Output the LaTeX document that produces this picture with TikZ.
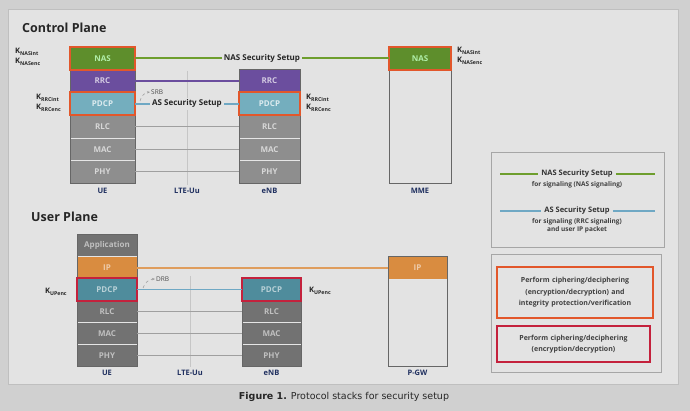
\documentclass[tikz,border=0pt]{standalone}
\usepackage{fontspec}
\setmainfont{Open Sans}
\setsansfont{Open Sans}
\newfontfamily\capfont{DejaVu Sans}
\usepackage{tikz}
\usetikzlibrary{arrows.meta}
\definecolor{mnas}{HTML}{5E8E2C}
\definecolor{mrrc}{HTML}{6B4E9E}
\definecolor{mpdcp}{HTML}{74AEBE}
\definecolor{mpdcpu}{HTML}{4F8C9C}
\definecolor{mgris}{HTML}{8E8E8E}
\definecolor{mgrisu}{HTML}{727272}
\definecolor{mip}{HTML}{D98C40}
\definecolor{msec}{HTML}{E2572B}
\definecolor{msecu}{HTML}{C4213C}
\definecolor{mnavy}{HTML}{1F2F5F}
\definecolor{mfondo}{HTML}{D0D0D0}
\definecolor{mpagina}{HTML}{E3E3E3}
\definecolor{mazul}{HTML}{6FA8C4}
\definecolor{mverde}{HTML}{6E9E2E}

\begin{document}
\begin{tikzpicture}[x=1pt,y=-1pt,font=\sffamily\bfseries\fontsize{7}{8}\selectfont,>={Stealth[length=3pt]},
lay/.style={rectangle,draw=white!80!gray,line width=0.4pt,minimum width=#1,minimum height=22.7pt,inner sep=0pt,font=\sffamily\bfseries\fontsize{8}{9}\selectfont},
lay/.default=62pt,
nasL/.style={fill=mnas,text=green!25!white!85!mnas},
rrcL/.style={fill=mrrc,text=mrrc!30!white},
pdcpL/.style={fill=mpdcp,text=mpdcp!25!white},
pdcpU/.style={fill=mpdcpu,text=mpdcpu!40!white},
lowL/.style={fill=mgris,text=mgris!35!white},
lowU/.style={fill=mgrisu,text=mgrisu!45!white},
ipL/.style={fill=mip,text=mip!45!white},
frame/.style={draw=black!60,line width=0.6pt},
secb/.style={draw=msec,line width=1.6pt},
secbu/.style={draw=msecu,line width=1.6pt},
ent/.style={text=mnavy,font=\sffamily\bfseries\fontsize{7.5}{8}\selectfont},
kl/.style={align=left,anchor=west,inner sep=0pt,text=black!85,font=\sffamily\bfseries\fontsize{7.5}{10}\selectfont},
ttl/.style={anchor=west,inner sep=0pt,text=black!85,font=\sffamily\bfseries\fontsize{12.5}{14}\selectfont},
setup/.style={fill=mpagina,inner sep=2pt,text=black!85,font=\sffamily\bfseries\fontsize{8}{9}\selectfont},
nasln/.style={draw=mverde,line width=1.8pt},
asln/.style={draw=mazul,line width=1.8pt},
rrcln/.style={draw=mrrc,line width=1.5pt},
grln/.style={draw=gray!75,line width=1.1pt},
ipln/.style={draw=mip!85!white,line width=1.8pt},
uuln/.style={draw=gray!45,line width=0.7pt},
rb/.style={->,dashed,draw=gray!80,line width=0.5pt},
rbl/.style={anchor=west,inner sep=1pt,text=black!70,font=\sffamily\fontsize{6.5}{7}\selectfont},
legbox/.style={rectangle,draw=gray!70,line width=0.5pt,inner sep=0pt},
legt/.style={inner sep=3pt,text=black!80,font=\sffamily\bfseries\fontsize{7.5}{8}\selectfont},
legs/.style={inner sep=0pt,align=center,text=black!75,font=\sffamily\bfseries\fontsize{6.5}{8}\selectfont},
legsec/.style={rectangle,line width=1.4pt,align=center,inner sep=0pt,text width=152pt,text=black!75,font=\sffamily\bfseries\fontsize{7}{11.5}\selectfont}]

% background and page
\fill[mfondo] (0,0) rectangle (690,411);
\draw[draw=black!25,fill=mpagina] (8,9) rectangle (678,384);

\node[ttl] (cpT) at (22,28) {Control Plane};
\node[ttl] (upT) at (31,217) {User Plane};

% ---------------- control plane ----------------
\coordinate (uuA) at (187,71);
\node[ent] (uuC) at (187,191) {LTE-Uu};
\draw[uuln] (uuA) -- (uuC.north);

% UE
\node[lay=65pt,nasL] (ueNAS) at (102.5,58.35) {NAS};
\node[lay=65pt,rrcL] (ueRRC) at (102.5,81.05) {RRC};
\node[lay=65pt,pdcpL] (uePDCP) at (102.5,103.75) {PDCP};
\node[lay=65pt,lowL] (ueRLC) at (102.5,126.45) {RLC};
\node[lay=65pt,lowL] (ueMAC) at (102.5,149.15) {MAC};
\node[lay=65pt,lowL] (uePHY) at (102.5,171.85) {PHY};
\draw[frame] (ueNAS.north west) rectangle (uePHY.south east);
\draw[secb] (ueNAS.north west) rectangle (ueNAS.south east);
\draw[secb] (uePDCP.north west) rectangle (uePDCP.south east);
\node[ent] (ueC) at (102.5,191) {UE};
\node[kl] (kNasUe) at (15,57) {K\textsubscript{NASint}\\K\textsubscript{NASenc}};
\node[kl] (kRrcUe) at (36,103) {K\textsubscript{RRCint}\\K\textsubscript{RRCenc}};

% eNB
\node[lay=61pt,rrcL] (enbRRC) at (269.5,81.05) {RRC};
\node[lay=61pt,pdcpL] (enbPDCP) at (269.5,103.75) {PDCP};
\node[lay=61pt,lowL] (enbRLC) at (269.5,126.45) {RLC};
\node[lay=61pt,lowL] (enbMAC) at (269.5,149.15) {MAC};
\node[lay=61pt,lowL] (enbPHY) at (269.5,171.85) {PHY};
\draw[frame] (enbRRC.north west) rectangle (enbPHY.south east);
\draw[secb] (enbPDCP.north west) rectangle (enbPDCP.south east);
\node[ent] (enbC) at (269.5,191) {eNB};
\node[kl] (kRrcEnb) at (306,103) {K\textsubscript{RRCint}\\K\textsubscript{RRCenc}};

% MME
\node[lay=62pt,minimum height=136pt,fill=mpagina] (mme) at (420,115.1) {};
\node[lay=62pt,nasL] (mmeNAS) at (420,58.35) {NAS};
\draw[frame] (mme.north west) rectangle (mme.south east);
\draw[secb] (mmeNAS.north west) rectangle (mmeNAS.south east);
\node[ent] (mmeC) at (420,191) {MME};
\node[kl] (kNasMme) at (457,56) {K\textsubscript{NASint}\\K\textsubscript{NASenc}};

% peer links
\node[setup] (nasS) at (262,58.35) {NAS Security Setup};
\draw[nasln] (ueNAS.east) -- (nasS.west);
\draw[nasln] (nasS.east) -- (mmeNAS.west);
\draw[rrcln] (ueRRC.east) -- (enbRRC.west);
\node[setup] (asS) at (187,103.75) {AS Security Setup};
\draw[asln] (uePDCP.east) -- (asS.west);
\draw[asln] (asS.east) -- (enbPDCP.west);
\draw[grln] (ueRLC.east) -- (enbRLC.west);
\draw[grln] (ueMAC.east) -- (enbMAC.west);
\draw[grln] (uePHY.east) -- (enbPHY.west);
\coordinate (srbA) at (140,101);
\node[rbl] (srb) at (150,92) {SRB};
\draw[rb] (srbA) to[bend left=35] (srb.west);

% ---------------- user plane ----------------
\coordinate (uuB) at (190,276);
\node[ent] (uuU) at (190,373) {LTE-Uu};
\draw[uuln] (uuB) -- (uuU.north);

% UE
\node[lay=60pt,lowU] (uApp) at (107,245.9) {Application};
\node[lay=60pt,ipL] (uIP) at (107,267.75) {IP};
\node[lay=60pt,pdcpU] (uPDCP) at (107,289.6) {PDCP};
\node[lay=60pt,lowU] (uRLC) at (107,311.45) {RLC};
\node[lay=60pt,lowU] (uMAC) at (107,333.3) {MAC};
\node[lay=60pt,lowU] (uPHY) at (107,355.15) {PHY};
\draw[frame] (uApp.north west) rectangle (uPHY.south east);
\draw[secbu] (uPDCP.north west) rectangle (uPDCP.south east);
\node[ent] (uC) at (107,373) {UE};
\node[kl] (kUpUe) at (45,292) {K\textsubscript{UPenc}};

% eNB
\node[lay=59pt,pdcpU] (eP) at (271.5,289.6) {PDCP};
\node[lay=59pt,lowU] (eR) at (271.5,311.45) {RLC};
\node[lay=59pt,lowU] (eM) at (271.5,333.3) {MAC};
\node[lay=59pt,lowU] (eH) at (271.5,355.15) {PHY};
\draw[frame] (eP.north west) rectangle (eH.south east);
\draw[secbu] (eP.north west) rectangle (eP.south east);
\node[ent] (eC) at (271.5,373) {eNB};
\node[kl] (kUpEnb) at (309,291) {K\textsubscript{UPenc}};

% P-GW
\node[lay=59pt,minimum height=109.2pt,fill=mpagina] (pgw) at (417.5,311.45) {};
\node[lay=59pt,ipL] (pIP) at (417.5,267.75) {IP};
\draw[frame] (pgw.north west) rectangle (pgw.south east);
\node[ent] (pC) at (417.5,373) {P-GW};

% peer links
\draw[ipln] (uIP.east) -- (pIP.west);
\draw[asln] (uPDCP.east) -- (eP.west);
\draw[grln] (uRLC.east) -- (eR.west);
\draw[grln] (uMAC.east) -- (eM.west);
\draw[grln] (uPHY.east) -- (eH.west);
\coordinate (drbA) at (143,288);
\node[rbl] (drb) at (155,279) {DRB};
\draw[rb] (drbA) to[bend left=35] (drb.west);

% ---------------- legend ----------------
\node[legbox,minimum width=173pt,minimum height=95pt] (leg1) at (577.5,199.5) {};
\coordinate (g1) at (500,174);
\coordinate (g2) at (655,174);
\node[legt] (legNas) at (577,174) {NAS Security Setup};
\draw[nasln] (g1) -- (legNas.west);
\draw[nasln] (legNas.east) -- (g2);
\node[legs] (legNasS) at (577,185) {for signaling (NAS signaling)};
\coordinate (b1) at (500,211);
\coordinate (b2) at (655,211);
\node[legt] (legAs) at (577,211) {AS Security Setup};
\draw[asln] (b1) -- (legAs.west);
\draw[asln] (legAs.east) -- (b2);
\node[legs] (legAsS) at (577,226) {for signaling (RRC signaling)\\and user IP packet};

\node[legbox,minimum width=170pt,minimum height=118pt] (leg2) at (576,313) {};
\node[legsec,draw=msec,minimum width=156pt,minimum height=51pt] (legA) at (575,292.5) {Perform ciphering/deciphering\\(encryption/decryption) and\\integrity protection/verification};
\node[legsec,draw=msecu,minimum width=153pt,minimum height=36pt] (legB) at (573.5,344) {Perform ciphering/deciphering\\(encryption/decryption)};

% caption
\node[text=black!85,font=\capfont\fontsize{9.5}{11}\selectfont] (cap) at (344,397) {\textbf{Figure 1.} Protocol stacks for security setup};
\end{tikzpicture}
\end{document}
